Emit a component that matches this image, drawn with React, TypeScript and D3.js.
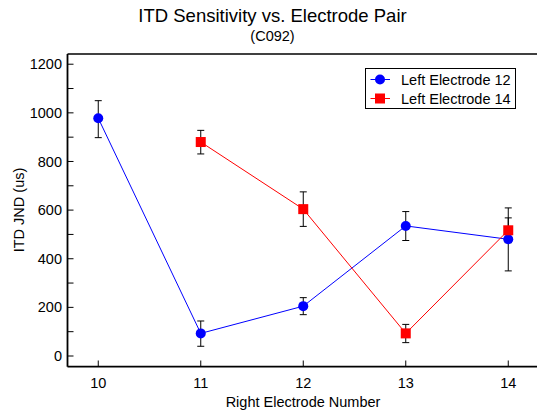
import React from "react";
import * as d3 from "d3";

const electrodes = [10, 11, 12, 13, 14];
const left12X = [10, 11, 12, 13, 14];
const left12Y = [978, 93, 205, 535, 480];
const left12Lo = [898, 40, 170, 475, 350];
const left12Hi = [1050, 144, 240, 594, 609];
const left14X = [11, 12, 13, 14];
const left14Y = [880, 604, 93, 517];
const left14Lo = [831, 533, 55, 466];
const left14Hi = [928, 675, 130, 568];
const yTicks = [0, 200, 400, 600, 800, 1000, 1200];
const yMinor = [100, 300, 500, 700, 900, 1100];

const FONT = "'Liberation Sans', Arial, sans-serif";

export default function App() {
  const W = 537, H = 412;
  const x = d3.scaleLinear().domain([9.7, 14.3]).range([67.5, 539]);
  const y = d3.scaleLinear().domain([-44, 1242]).range([366.7, 54]);
  const line = d3.line<[number, number]>().x(d => x(d[0])).y(d => y(d[1]));
  const s1 = left12X.map((v, i) => [v, left12Y[i]] as [number, number]);
  const s2 = left14X.map((v, i) => [v, left14Y[i]] as [number, number]);

  const errBars = (xs: number[], lo: number[], hi: number[], key: string) =>
    xs.map((v, i) => (
      <g key={key + i} stroke="#000" strokeWidth={1}>
        <line x1={x(v)} x2={x(v)} y1={y(lo[i])} y2={y(hi[i])} />
        <line x1={x(v) - 3.5} x2={x(v) + 3.5} y1={y(lo[i])} y2={y(lo[i])} />
        <line x1={x(v) - 3.5} x2={x(v) + 3.5} y1={y(hi[i])} y2={y(hi[i])} />
      </g>
    ));

  return (
    <svg width={W} height={H} style={{ position: "absolute", left: 0, top: 0 }} fontFamily={FONT}>
      <rect width={W} height={H} fill="#fff" />
      <text x={272.5} y={22} textAnchor="middle" fontSize={18.5}>ITD Sensitivity vs. Electrode Pair</text>
      <text x={272.5} y={41} textAnchor="middle" fontSize={14.5}>(C092)</text>

      {/* axes frame */}
      <line x1={67.5} x2={539} y1={54} y2={54} stroke="#000" strokeWidth={1.5} />
      <line x1={67.5} x2={539} y1={366.7} y2={366.7} stroke="#000" strokeWidth={1.8} />
      <line x1={67.5} x2={67.5} y1={54} y2={366.7} stroke="#000" strokeWidth={1.8} />

      {yTicks.map(t => (
        <g key={"yt" + t}>
          <line x1={67.5} x2={73.5} y1={y(t)} y2={y(t)} stroke="#000" strokeWidth={1} />
          <text x={62} y={y(t)} dy="0.35em" textAnchor="end" fontSize={14.5}>{t}</text>
        </g>
      ))}
      {yMinor.map(t => (
        <line key={"ym" + t} x1={67.5} x2={73.5} y1={y(t)} y2={y(t)} stroke="#000" strokeWidth={1} />
      ))}
      {electrodes.map(t => (
        <g key={"xt" + t}>
          <line x1={x(t)} x2={x(t)} y1={366.7} y2={360.5} stroke="#000" strokeWidth={1} />
          <text x={x(t)} y={383} dy="0.35em" textAnchor="middle" fontSize={14.5}>{t}</text>
        </g>
      ))}
      <text x={303} y={402} dy="0.35em" textAnchor="middle" fontSize={14.5}>Right Electrode Number</text>
      <text transform="translate(19,210) rotate(-90)" dy="0.35em" textAnchor="middle" fontSize={14.5}>ITD JND (us)</text>

      {/* series */}
      <path d={line(s1) || ""} fill="none" stroke="#0000ff" strokeWidth={1} />
      <path d={line(s2) || ""} fill="none" stroke="#ff0000" strokeWidth={1} />
      {errBars(left12X, left12Lo, left12Hi, "e1")}
      {errBars(left14X, left14Lo, left14Hi, "e2")}
      {s1.map((d, i) => (
        <circle key={"c" + i} cx={x(d[0])} cy={y(d[1])} r={5} fill="#0000ff" />
      ))}
      {s2.map((d, i) => (
        <rect key={"r" + i} x={x(d[0]) - 5} y={y(d[1]) - 5} width={10} height={10} fill="#ff0000" />
      ))}

      {/* legend */}
      <rect x={365.5} y={68.5} width={150} height={40} fill="#fff" stroke="#000" strokeWidth={1} />
      <line x1={370.5} x2={390} y1={79.5} y2={79.5} stroke="#0000ff" strokeWidth={1} />
      <circle cx={380} cy={79.5} r={5} fill="#0000ff" />
      <text x={401} y={79.5} dy="0.35em" fontSize={14.5}>Left Electrode 12</text>
      <line x1={370.5} x2={390} y1={98.5} y2={98.5} stroke="#ff0000" strokeWidth={1} />
      <rect x={375} y={93.5} width={10} height={10} fill="#ff0000" />
      <text x={401} y={98.5} dy="0.35em" fontSize={14.5}>Left Electrode 14</text>
    </svg>
  );
}
